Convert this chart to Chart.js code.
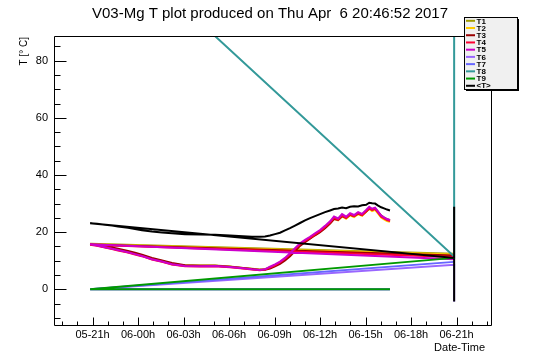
<!DOCTYPE html>
<html><head><meta charset="utf-8">
<script src="https://cdn.jsdelivr.net/npm/chart.js@4.4.0/dist/chart.umd.min.js"></script>
<style>html,body{margin:0;padding:0;background:#fff;overflow:hidden}#wrap{width:546px;height:362px}</style>
</head><body><div id="wrap"><canvas id="c" width="546" height="362"></canvas></div>
<script>
const chartTitle = "V03-Mg T plot produced on Thu Apr  6 20:46:52 2017";
const yTitle = "T [\u00B0 C]";
const xTitle = "Date-Time";
const seriesNames = ["T1","T2","T3","T4","T5","T6","T7","T8","T9","<T>"];
const seriesColors = ["#a09c00","#ffcc00","#990000","#ff0033","#cc00cc","#9966ff","#6666ff","#339999","#009900","#000000"];

// x values: hours since 05-00h
const tickHours = [21,24,27,30,33,36,39,42,45];
const tickLabels = ["05-21h","06-00h","06-03h","06-06h","06-09h","06-12h","06-15h","06-18h","06-21h"];
const yTicks = [0,20,40,60,80];

const dataHours = [20.84,21.3,21.82,22.29,22.68,23.34,23.8,24.26,24.92,25.58,26.24,27.1,28.1,29.08,30.06,30.92,31.51,32.04,32.37,32.7,33.03,33.36,33.69,34.02,34.35,34.68,35.01,35.34,35.67,36.0,36.33,36.66,36.92,37.19,37.45,37.72,37.98,38.24,38.51,38.77,39.04,39.24,39.43,39.63,39.83,40.03,40.22,40.42,40.61];

const t1 = [15.9,15.4,14.8,14.3,13.9,13.1,12.4,11.8,10.7,9.9,8.9,8.3,8.3,8.3,8.0,7.5,7.2,6.9,7.0,7.7,8.5,9.5,10.8,12.3,14.1,15.8,17.0,18.1,19.3,20.4,21.9,23.5,25.1,24.5,26.0,25.1,26.3,25.7,26.7,26.1,27.5,28.5,27.9,28.3,26.9,25.5,24.9,24.3,24.0];
const t2 = [15.8,15.4,14.8,14.3,13.8,13.0,12.4,11.7,10.6,9.8,8.8,8.2,8.2,8.2,7.9,7.4,7.1,6.8,6.9,7.6,8.4,9.3,10.6,12.1,13.9,15.6,16.8,17.9,19.0,20.2,21.6,23.1,24.7,24.1,25.5,24.7,25.9,25.3,26.3,25.7,27.1,28.1,27.4,27.8,26.5,25.1,24.5,23.9,23.6];
const t3 = [15.7,15.5,15.0,14.6,14.2,13.4,12.8,12.1,11.0,10.1,9.2,8.4,8.2,8.2,7.9,7.5,7.1,6.8,6.8,7.3,8.0,8.9,10.1,11.6,13.4,15.2,16.5,17.7,18.9,20.0,21.4,23.0,24.6,24.3,25.6,25.0,26.1,25.6,26.5,26.0,27.2,28.3,27.9,28.2,27.0,25.8,25.1,24.5,24.1];
const t4 = [15.6,15.2,14.6,14.1,13.6,12.9,12.2,11.6,10.4,9.6,8.7,8.1,8.0,8.1,7.7,7.3,6.9,6.7,6.9,7.6,8.4,9.4,10.7,12.2,14.0,15.7,16.9,18.0,19.2,20.3,21.8,23.4,25.0,24.4,25.9,25.0,26.2,25.6,26.6,26.0,27.4,28.4,27.8,28.2,26.8,25.4,24.8,24.2,23.9];
const t5 = [15.75,15.3,14.7,14.2,13.75,12.95,12.3,11.65,10.5,9.7,8.75,8.15,8.1,8.15,7.8,7.35,7.0,6.75,7.0,7.9,8.7,9.7,11.0,12.6,14.4,16.1,17.3,18.4,19.6,20.75,22.2,23.8,25.5,24.8,26.3,25.4,26.6,26.0,27.0,26.4,27.8,28.9,28.2,28.6,27.2,25.8,25.2,24.6,24.3];
const t6 = [0,0,0,0,0,0,0,0,0,0,0,0,0,0,0,0,0,0,0,0,0,0,0,0,0,0,0,0,0,0,0,0,0,0,0,0,0,0,0,0,0,0,0,0,0,0,0,0,0];
const t7 = [0,0,0,0,0,0,0,0,0,0,0,0,0,0,0,0,0,0,0,0,0,0,0,0,0,0,0,0,0,0,0,0,0,0,0,0,0,0,0,0,0,0,0,0,0,0,0,0,0];
const t8 = [128.9,128.9,128.9,128.9,128.9,128.9,128.9,128.9,128.9,128.9,128.9,128.9,128.9,128.9,128.9,128.9,128.9,128.9,128.9,128.9,128.9,128.9,128.9,128.9,128.9,128.9,128.9,128.9,128.9,128.9,128.9,128.9,128.9,128.9,128.9,128.9,128.9,128.9,128.9,128.9,128.9,128.9,128.9,128.9,128.9,128.9,128.9,128.9,128.9];
const t9 = [0,0,0,0,0,0,0,0,0,0,0,0,0,0,0,0,0,0,0,0,0,0,0,0,0,0,0,0,0,0,0,0,0,0,0,0,0,0,0,0,0,0,0,0,0,0,0,0,0];
const tAvg = [23.1,22.9,22.6,22.3,22.0,21.5,21.1,20.7,20.2,19.9,19.6,19.3,19.2,19.1,18.8,18.6,18.4,18.35,18.5,18.8,19.3,19.8,20.6,21.4,22.3,23.2,24.1,24.9,25.6,26.3,27.0,27.6,28.1,28.3,28.6,28.4,28.9,29.1,29.0,29.4,29.6,30.3,30.1,30.0,29.3,28.7,28.3,27.9,27.6];

// readings recorded at the final timestamp (drawn first in each graph)
const endHour = 44.84;
const endValues = [[12.4],[12.2],[11.8],[11.3],[10.5],[-4.3,8.6],[9.6],[200,11.5],[11.0],[28.9,-4.3,11.0]];
const seriesValues = [t1,t2,t3,t4,t5,t6,t7,t8,t9,tAvg];

const X_MIN = 18.46, X_MAX = 47.27, Y_MIN = -12.49, Y_MAX = 88.64;
const FONT = "'Liberation Sans', Arial, Helvetica, sans-serif";
Chart.defaults.font.family = FONT;

const datasets = seriesNames.map((name, i) => ({
  label: name,
  data: endValues[i].map(v => ({x: endHour, y: v}))
        .concat(dataHours.map((h, k) => ({x: h, y: seriesValues[i][k]}))),
  borderColor: seriesColors[i],
  backgroundColor: seriesColors[i],
  borderWidth: 2,
  pointRadius: 0,
  fill: false,
  tension: 0,
  order: seriesNames.length - 1 - i
}));

const rootDecor = {
  id: 'rootDecor',
  afterDraw(chart) {
    const {ctx, chartArea: a, scales: {x, y}} = chart;
    ctx.save();
    ctx.strokeStyle = '#000';
    ctx.lineWidth = 1;
    const L = Math.round(a.left) + 0.5, T = Math.round(a.top) + 0.5;
    const R = Math.round(a.right) + 0.5, B = Math.round(a.bottom) + 0.5;
    ctx.beginPath();
    ctx.rect(L, T, R - L, B - T);
    for (let v = -10; v <= 85; v += 5) {
      const py = Math.round(y.getPixelForValue(v)) + 0.5;
      const len = yTicks.includes(v) ? 12 : 6;
      ctx.moveTo(L, py); ctx.lineTo(L + len, py);
    }
    for (let h = 19; h <= 47; h++) {
      const px = Math.round(x.getPixelForValue(h)) + 0.5;
      const len = tickHours.includes(h) ? 8 : 4;
      ctx.moveTo(px, B); ctx.lineTo(px, B - len);
    }
    ctx.stroke();

    ctx.fillStyle = '#000';
    ctx.font = '15px ' + FONT;
    ctx.textAlign = 'center';
    ctx.textBaseline = 'alphabetic';
    ctx.fillText(chartTitle, 270, 18);
    ctx.font = '11px ' + FONT;
    ctx.textAlign = 'right';
    ctx.fillText(xTitle, 485, 351);
    ctx.save();
    ctx.translate(27, 37);
    ctx.rotate(-Math.PI / 2);
    ctx.font = '10px ' + FONT;
    ctx.textAlign = 'right';
    ctx.fillText(yTitle, 0, 0);
    ctx.restore();

    // legend box (ROOT style with shadow)
    const lx = 464.5, ly = 17.5, lw = 53, lh = 72;
    ctx.fillStyle = '#f0f0f0';
    ctx.fillRect(lx, ly, lw, lh);
    ctx.strokeStyle = '#000';
    ctx.lineWidth = 1;
    ctx.strokeRect(lx, ly, lw, lh);
    ctx.fillStyle = '#000';
    ctx.fillRect(lx + lw, ly + 1.5, 1.5, lh);
    ctx.fillRect(lx + 1.5, ly + lh, lw, 1.5);
    ctx.font = 'bold 8px ' + FONT;
    ctx.textAlign = 'left';
    ctx.textBaseline = 'middle';
    seriesNames.forEach((name, i) => {
      const ey = 20.8 + i * 7.22;
      ctx.strokeStyle = seriesColors[i];
      ctx.lineWidth = 2;
      ctx.beginPath();
      ctx.moveTo(466, ey); ctx.lineTo(475, ey);
      ctx.stroke();
      ctx.fillStyle = '#000';
      ctx.fillText(name, 476.5, ey + 0.5);
    });
    ctx.restore();
  }
};

new Chart(document.getElementById('c'), {
  type: 'line',
  data: {datasets},
  options: {
    responsive: false,
    animation: false,
    events: [],
    layout: {padding: {left: 0, right: 55, top: 36, bottom: 0}},
    plugins: {legend: {display: false}, title: {display: false}, tooltip: {enabled: false}},
    scales: {
      x: {
        type: 'linear', min: X_MIN, max: X_MAX,
        grid: {display: false, drawTicks: false},
        border: {display: false},
        afterBuildTicks: s => { s.ticks = tickHours.map(v => ({value: v})); },
        afterFit: s => { s.height = 37; },
        ticks: {
          autoSkip: false, maxRotation: 0, padding: 3, color: '#000',
          font: {size: 11},
          callback: (v, i) => tickLabels[i]
        }
      },
      y: {
        type: 'linear', min: Y_MIN, max: Y_MAX,
        grid: {display: false, drawTicks: false},
        border: {display: false},
        afterBuildTicks: s => { s.ticks = yTicks.map(v => ({value: v})); },
        afterFit: s => { s.width = 54; },
        ticks: {padding: 6, color: '#000', font: {size: 11}, callback: v => String(v)}
      }
    }
  },
  plugins: [rootDecor]
});
</script>
</body></html>
